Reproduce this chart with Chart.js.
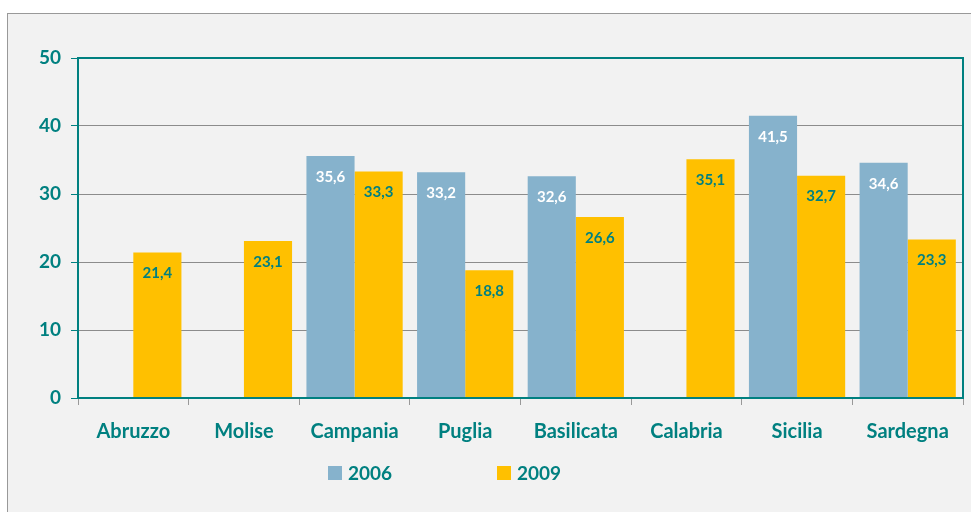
<!DOCTYPE html>
<html>
<head>
<meta charset="utf-8">
<script src="https://cdn.jsdelivr.net/npm/chart.js@4"></script>
<style>
  html, body { margin: 0; padding: 0; background: #fff; }
  #wrap { position: relative; width: 971px; height: 512px; overflow: hidden; }
  #frame { position: absolute; left: 7px; top: 13px; width: 980px; height: 520px;
           background: #f2f2f2; border: 1px solid #999; }
  canvas { position: absolute; left: 0; top: 0; }
</style>
</head>
<body>
<div id="wrap">
  <div id="frame"></div>
  <canvas id="myChart" width="971" height="512"></canvas>
</div>
<script>
const regions = ["Abruzzo", "Molise", "Campania", "Puglia", "Basilicata", "Calabria", "Sicilia", "Sardegna"];
const values2006 = [null, null, 35.6, 33.2, 32.6, null, 41.5, 34.6];
const values2009 = [21.4, 23.1, 33.3, 18.8, 26.6, 35.1, 32.7, 23.3];
const yTicks = [0, 10, 20, 30, 40, 50];

const teal = "#008080";
const font = "Lato, 'Open Sans', sans-serif";

// white / teal value labels inside bar tops, frame of the plot area, legend
const extras = {
  id: "extras",
  afterDatasetsDraw(chart) {
    const ctx = chart.ctx;
    const area = chart.chartArea;
    ctx.save();
    ctx.font = "bold 15px " + font;
    ctx.textAlign = "center";
    ctx.textBaseline = "middle";
    chart.data.datasets.forEach((ds, i) => {
      chart.getDatasetMeta(i).data.forEach((bar, j) => {
        const v = ds.data[j];
        if (v == null) return;
        ctx.fillStyle = i === 0 ? "#ffffff" : teal;
        ctx.fillText(v.toFixed(1).replace(".", ","), bar.x, bar.y + 21);
      });
    });
    ctx.strokeStyle = teal;
    ctx.lineWidth = 2;
    ctx.strokeRect(area.left, area.top, area.right - area.left, area.bottom - area.top);

    // legend
    const items = [[328, 0], [497, 1]];
    ctx.font = "bold 19px " + font;
    ctx.textAlign = "left";
    items.forEach(([x, i]) => {
      const ds = chart.data.datasets[i];
      ctx.fillStyle = ds.backgroundColor;
      ctx.fillRect(x, 466, 14, 14);
      ctx.fillStyle = teal;
      ctx.fillText(ds.label, x + 20, 474);
    });
    ctx.restore();
  }
};

new Chart(document.getElementById("myChart"), {
  type: "bar",
  data: {
    labels: regions,
    datasets: [
      { label: "2006", data: values2006, backgroundColor: "#86b2cc" },
      { label: "2009", data: values2009, backgroundColor: "#ffc000" }
    ]
  },
  options: {
    responsive: false,
    animation: false,
    layout: { padding: { top: 58, right: 8, bottom: 54, left: 0 } },
    datasets: { bar: { categoryPercentage: 0.87, barPercentage: 1 } },
    plugins: { legend: { display: false }, tooltip: { enabled: false } },
    scales: {
      x: {
        afterFit: s => { s.height = 60; },
        grid: { offset: true, drawOnChartArea: false, color: "#999", tickLength: 7 },
        border: { color: teal, width: 2 },
        ticks: { color: teal, padding: 15, font: { family: font, size: 20, weight: "bold" } }
      },
      y: {
        min: 0,
        max: 50,
        afterFit: s => { s.width = 78; },
        afterBuildTicks: s => { s.ticks = yTicks.map(v => ({ value: v })); },
        grid: { color: "#8c8c8c", tickColor: teal, tickLength: 7 },
        border: { color: teal, width: 2 },
        ticks: { color: teal, padding: 10, font: { family: font, size: 19, weight: "bold" } }
      }
    }
  },
  plugins: [extras]
});
</script>
</body>
</html>
